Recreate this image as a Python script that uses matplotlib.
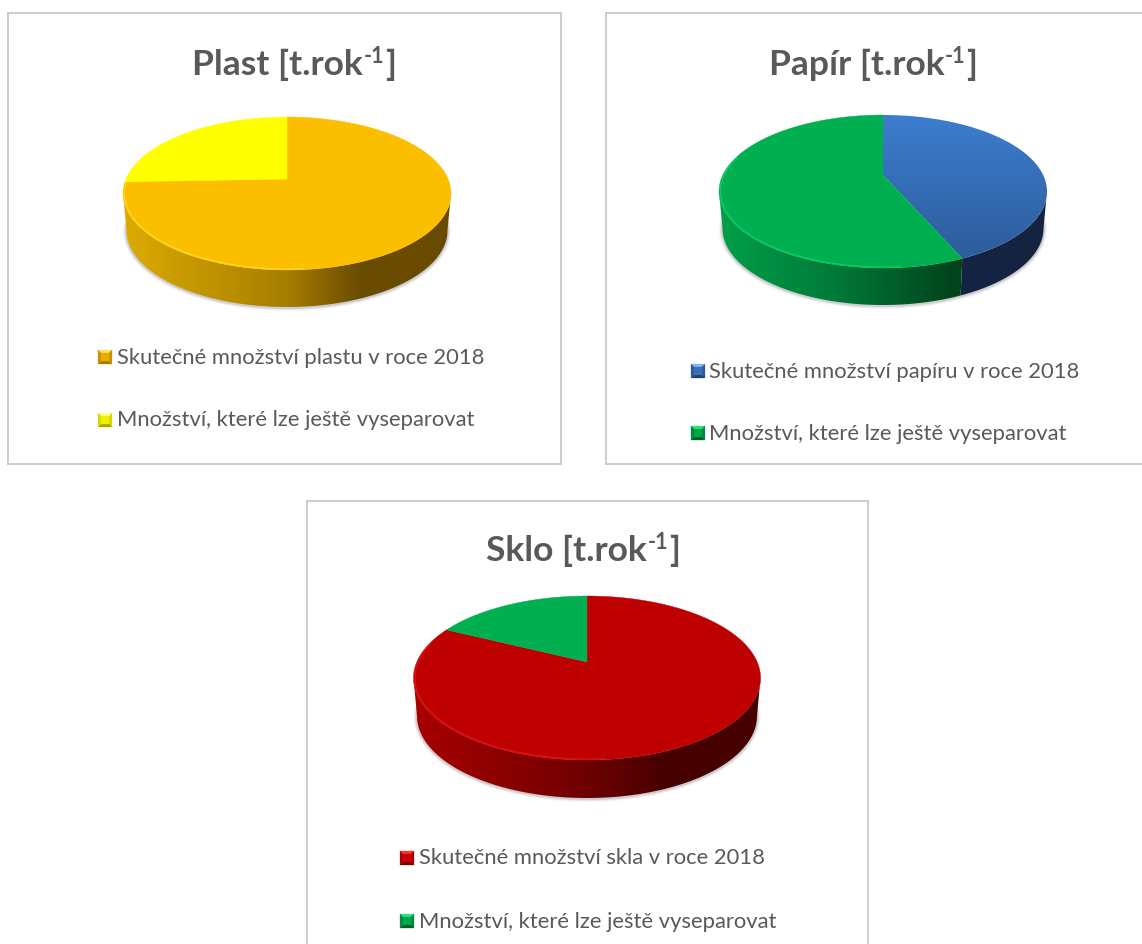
import numpy as np
import matplotlib
matplotlib.use("Agg")
import matplotlib.pyplot as plt
from matplotlib.colors import LinearSegmentedColormap
from matplotlib.patches import Polygon

W, H = 1142, 944
plt.rcParams['font.family'] = ['Lato', 'DejaVu Sans']

# ---- data (shares, in %) ----
plast_values = [74.4, 25.6]
papir_values = [43.5, 56.5]
sklo_values = [82.3, 17.7]

plast_labels = ["Skutečné množství plastu v roce 2018", "Množství, které lze ještě vyseparovat"]
papir_labels = ["Skutečné množství papíru v roce 2018", "Množství, které lze ještě vyseparovat"]
sklo_labels = ["Skutečné množství skla v roce 2018", "Množství, které lze ještě vyseparovat"]

plast_title = "Plast [t.rok"
papir_title = "Papír [t.rok"
sklo_title = "Sklo [t.rok"

# ---- styles ----
TXT = "#595959"
BORDER = "#c9c9c9"
panels = [
    dict(box=(8, 13, 561, 464), sides=("left", "right", "top", "bottom"),
         values=plast_values, labels=plast_labels, title=plast_title, title_c=(294, 64),
         apex=(287, 179), top=117, bottom=270, rx=164, depth=37,
         face=["#fcbf00", "#ffff00"],
         rim=["#ffe23a", "#ffff00"],
         wall=[[(0, "#dcab00"), (.5, "#a67e00"), (.72, "#6b4d00"), (1, "#684b00")],
               [(0, "#dcdc00"), (1, "#808000")]],
         key=[("#ffe060", "#e8ad00", "#c79500", "#a87c00"), ("#ffff90", "#f0f000", "#d8d800", "#a8a800")],
         key_x=98, text_x=117, leg_y=(357, 420)),
    dict(box=(606, 13, 1142, 464), sides=("left", "top", "bottom"),
         values=papir_values, labels=papir_labels, title=papir_title, title_c=(873, 64),
         apex=(883, 175), top=115, bottom=268, rx=164, depth=37,
         face=[("#3d7dcf", "#2b5a98"), "#00b050"],
         rim=["#3f7ecb", "#12d86c"],
         wall=[[(0, "#14264a"), (1, "#132340")],
               [(0, "#00a04a"), (.35, "#007a38"), (.72, "#00431c"), (1, "#00431c")]],
         key=[("#7fb5f0", "#3a70b8", "#2d5c9c", "#1f3f70"), ("#30e080", "#00a64a", "#008a3c", "#00602a")],
         key_x=691, text_x=709, leg_y=(371, 433)),
    dict(box=(307, 501, 868, 944), sides=("left", "right", "top"),
         values=sklo_values, labels=sklo_labels, title=sklo_title, title_c=(583, 550),
         apex=(587, 662), top=596, bottom=760, rx=173.5, depth=38,
         face=["#be0000", "#00b050"],
         rim=["#f01818", "#12d86c"],
         wall=[[(0, "#a80000"), (.45, "#750000"), (.72, "#480000"), (1, "#460000")],
               [(0, "#00a04a"), (1, "#004a20")]],
         key=[("#ff3030", "#c80000", "#a80000", "#780000"), ("#30e080", "#00a64a", "#008a3c", "#00602a")],
         key_x=400, text_x=419, leg_y=(858, 921)),
]
LEG_FS = 15.85
TITLE_FS = 25.5
SUP_FS = 15.5


def pie_mapper(p):
    """Return projective map of the unit disc (perspective pie) to pixels."""
    up = p["apex"][1] - p["top"]
    down = p["bottom"] - p["apex"][1]
    k = (down - up) / (down + up)
    a = up * (1 + k)
    b = p["rx"] * np.sqrt(1 - k ** 2)

    def pt(theta, r=1.0):
        x = r * np.sin(theta)
        y = r * np.cos(theta)
        w = 1 + k * y
        return p["apex"][0] + b * x / w, p["apex"][1] - a * y / w
    return pt, k


def grad_image(ax, extent, stops, clip, vertical=False, zorder=3):
    cmap = LinearSegmentedColormap.from_list("g", stops)
    g = np.linspace(0, 1, 256)
    arr = g[:, None] if vertical else g[None, :]
    im = ax.imshow(arr, cmap=cmap, vmin=0, vmax=1, extent=extent, aspect="auto",
                   origin="upper", zorder=zorder, interpolation="bilinear")
    poly = Polygon(clip, closed=True, transform=ax.transData, fc="none", ec="none")
    ax.add_patch(poly)
    im.set_clip_path(poly)
    return im


def draw_pie(ax, p):
    pt, k = pie_mapper(p)
    cx, dep = p["apex"][0], p["depth"]
    inset = 1 - 3.5 / p["rx"]
    th_r = np.arccos(-k)
    th_l = 2 * np.pi - th_r
    fractions = np.array(p["values"], float) / sum(p["values"])
    edges = np.concatenate([[0], np.cumsum(fractions)]) * 2 * np.pi

    def lower(theta):
        x, y = pt(theta)
        return cx + (x - cx) * inset, y + dep

    # soft shadow round the lower edge of the wall
    tt = np.linspace(th_r - .1, th_l + .1, 300)
    lx, ly = lower(tt)
    for lw, al in zip((5, 3.5, 2), (.06, .10, .16)):
        ax.plot(lx, ly + .5, color="#555555", lw=lw, alpha=al, zorder=2, solid_capstyle="round")

    x_left = cx - p["rx"]
    x_right = cx + p["rx"]
    yb = p["bottom"] + dep + 1
    yt = p["top"]
    # walls
    for i in range(len(fractions)):
        s = max(edges[i], th_r)
        e = min(edges[i + 1], th_l)
        if e <= s:
            continue
        t = np.linspace(s, e, 200)
        ux, uy = pt(t)
        bx, by = lower(t)
        poly = np.column_stack([np.r_[ux, bx[::-1]], np.r_[uy, by[::-1]]])
        grad_image(ax, (x_left, x_right, yb, yt), p["wall"][i], poly)
    # top faces
    for i in range(len(fractions)):
        t = np.linspace(edges[i], edges[i + 1], 300)
        x, y = pt(t)
        poly = np.column_stack([np.r_[p["apex"][0], x], np.r_[p["apex"][1], y]])
        f = p["face"][i]
        if isinstance(f, tuple):
            grad_image(ax, (x_left, x_right, p["bottom"], p["top"]),
                       [(0, f[0]), (1, f[1])], poly, vertical=True, zorder=4)
        else:
            ax.fill(poly[:, 0], poly[:, 1], fc=f, ec=f, lw=.3, zorder=4)
    # bevel highlight on the front-left rim
    for i in range(len(fractions)):
        s = max(edges[i], np.radians(175))
        e = min(edges[i + 1], np.radians(285))
        if e > s:
            t = np.linspace(s, e, 200)
            x, y = pt(t, .992)
            ax.plot(x, y, color=p["rim"][i], lw=.9, alpha=.7, zorder=5, solid_capstyle="butt")


def draw_key(ax, x, yc, cols, size=14):
    top, mid, side, bot = cols
    x0, x1 = x, x + size
    y0, y1 = yc - size / 2, yc + size / 2
    i = 3.4
    a, b, c, d = (x0, y0), (x1, y0), (x1, y1), (x0, y1)
    A, B, C, D = (x0 + i, y0 + i), (x1 - i, y0 + i), (x1 - i, y1 - i), (x0 + i, y1 - i)
    for pts, col in (((a, b, B, A), top), ((b, c, C, B), side), ((c, d, D, C), bot),
                     ((d, a, A, D), side), ((A, B, C, D), mid)):
        ax.add_patch(Polygon(pts, closed=True, fc=col, ec=col, lw=.2, zorder=6))


fig = plt.figure(figsize=(W / 100, H / 100), dpi=100, facecolor="white")
for p in panels:
    x0, y0, x1, y1 = p["box"]
    ax = fig.add_axes([x0 / W, 1 - y1 / H, (x1 - x0) / W, (y1 - y0) / H])
    ax.set_xticks([])
    ax.set_yticks([])
    for name, sp in ax.spines.items():
        sp.set_visible(name in p["sides"])
        sp.set_color(BORDER)
        sp.set_linewidth(1.3)
    draw_pie(ax, p)
    ax.set_xlim(x0, x1)
    ax.set_ylim(y1, y0)
    for lab, y, cols in zip(p["labels"], p["leg_y"], p["key"]):
        draw_key(ax, p["key_x"], y, cols)
        ax.text(p["text_x"], y + 6.5, lab, fontsize=LEG_FS, color=TXT, va="baseline", ha="left", zorder=7)

    # title: main text, superscript, closing bracket, centred as one line
    fig.canvas.draw()
    r = fig.canvas.get_renderer()
    tx, ty = p["title_c"]
    t1 = ax.text(0, ty + 11, p["title"], fontsize=TITLE_FS, fontweight="bold", color=TXT, va="baseline", ha="left")
    t2 = ax.text(0, ty - 1, "-1", fontsize=SUP_FS, fontweight="bold", color=TXT, va="baseline", ha="left")
    t3 = ax.text(0, ty + 11, "]", fontsize=TITLE_FS, fontweight="bold", color=TXT, va="baseline", ha="left")
    w1, w2, w3 = [t.get_window_extent(r).width for t in (t1, t2, t3)]
    start = tx - (w1 + w2 + w3 + 1) / 2
    t1.set_x(start)
    t2.set_x(start + w1 + .5)
    t3.set_x(start + w1 + w2 + 1)

fig.savefig("out.png", dpi=100, facecolor="white")
